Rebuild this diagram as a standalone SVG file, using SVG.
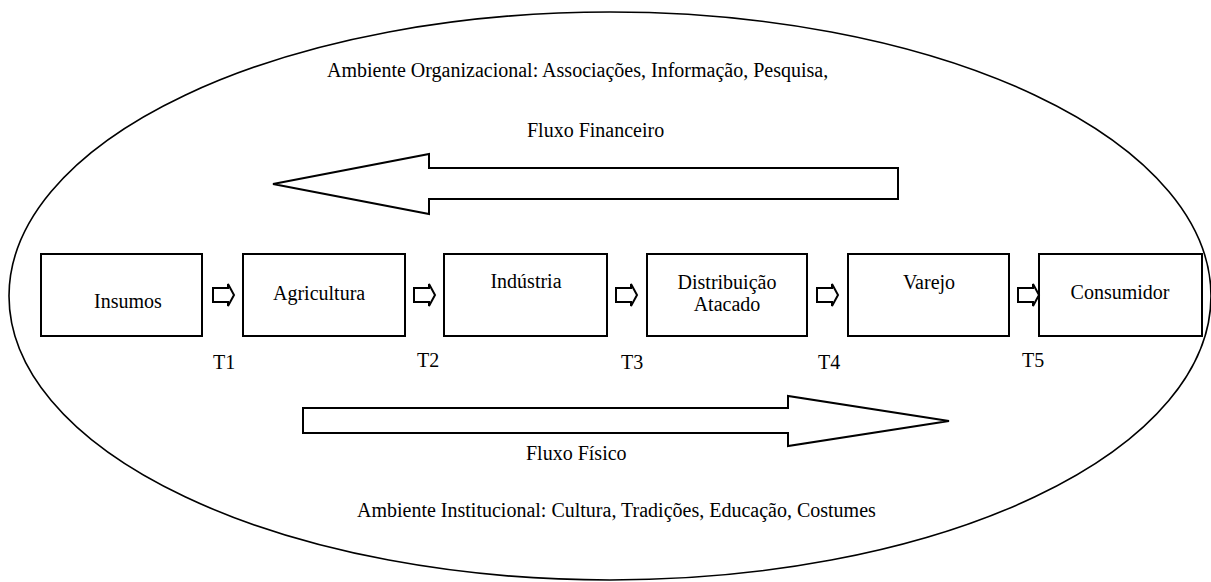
<svg xmlns="http://www.w3.org/2000/svg" width="1211" height="582" viewBox="0 0 1211 582">
<style>
.t{font-family:"Liberation Serif","Times New Roman",serif;font-size:20px;fill:#000}
.m{text-anchor:middle}
.box{fill:#fff;stroke:#000;stroke-width:2}
.arr{fill:#fff;stroke:#000;stroke-width:2;stroke-linejoin:miter}
.big{fill:#fff;stroke:#000;stroke-width:2}
</style>
<rect width="1211" height="582" fill="#fff"/>
<g id="environment">
<ellipse cx="610" cy="296" rx="601" ry="284" fill="none" stroke="#000" stroke-width="1.6"/>
<text class="t" x="327" y="77">Ambiente Organizacional: Associações, Informação, Pesquisa,</text>
<text class="t" x="357" y="517">Ambiente Institucional: Cultura, Tradições, Educação, Costumes</text>
</g>
<g id="fluxo-financeiro">
<polygon class="big" points="898,168 429,168 429,154 273,184 429,214 429,199 898,199"/>
<text class="t" x="527" y="137">Fluxo Financeiro</text>
</g>
<g id="fluxo-fisico">
<polygon class="big" points="303,408 788,408 788,396 949,421 788,446 788,433 303,433"/>
<text class="t" x="526" y="460">Fluxo Físico</text>
</g>
<g id="insumos">
<rect class="box" x="41" y="254" width="161" height="82"/>
<text class="t" x="94" y="308">Insumos</text>
</g>
<g id="agricultura">
<rect class="box" x="243" y="254" width="162" height="82"/>
<text class="t" x="273" y="300">Agricultura</text>
</g>
<g id="industria">
<rect class="box" x="444" y="254" width="163" height="82"/>
<text class="t m" x="526" y="288">Indústria</text>
</g>
<g id="distribuicao">
<rect class="box" x="647" y="254" width="160" height="82"/>
<text class="t m" x="727" y="289">Distribuição</text>
<text class="t m" x="727" y="311">Atacado</text>
</g>
<g id="varejo">
<rect class="box" x="848" y="254" width="161" height="82"/>
<text class="t m" x="929" y="289">Varejo</text>
</g>
<g id="consumidor">
<rect class="box" x="1039" y="254" width="163" height="82"/>
<text class="t m" x="1120" y="299">Consumidor</text>
</g>
<g id="connectors">
<path class="arr" d="M213,288 h15 v-4 l6,11 l-6,11 v-4 h-15 z"/>
<path class="arr" d="M414,288 h15 v-4 l6,11 l-6,11 v-4 h-15 z"/>
<path class="arr" d="M616,288 h15 v-4 l6,11 l-6,11 v-4 h-15 z"/>
<path class="arr" d="M817,288 h15 v-4 l6,11 l-6,11 v-4 h-15 z"/>
<path class="arr" d="M1018,288 h15 v-4 l6,11 l-6,11 v-4 h-15 z"/>
</g>
<g id="transactions">
<text class="t" x="213" y="369">T1</text>
<text class="t" x="417" y="367">T2</text>
<text class="t" x="621" y="369">T3</text>
<text class="t" x="818" y="369">T4</text>
<text class="t" x="1022" y="367">T5</text>
</g>
</svg>
